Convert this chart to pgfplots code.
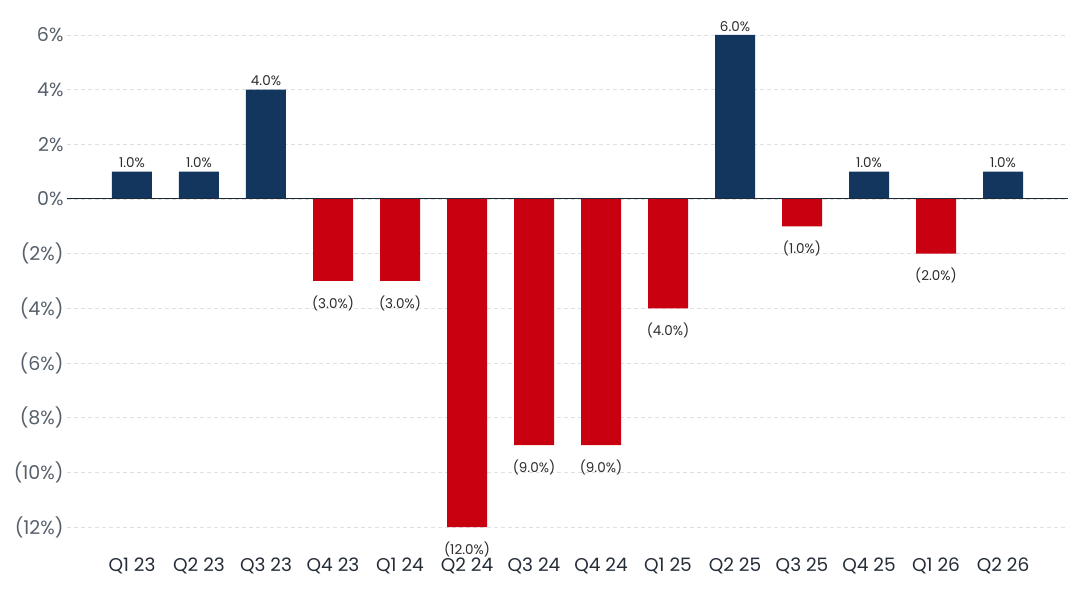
\documentclass[border=0pt]{standalone}
\usepackage{pgfplots}
\pgfplotsset{compat=1.18}
\usepackage{fontspec}
\setmainfont{Poppins}
\definecolor{navy}{HTML}{12365E}
\definecolor{bred}{HTML}{C8000F}
\definecolor{tickgray}{HTML}{56606B}
\definecolor{xdark}{HTML}{252D38}
\definecolor{labdark}{HTML}{2B2B2B}
\definecolor{zeroline}{HTML}{1E2A38}
\begin{document}
\begin{tikzpicture}
\begin{axis}[
  scale only axis, width=1001pt, height=519.33pt,
  xmin=-0.97, xmax=13.97, ymin=-12.5, ymax=6.5,
  axis line style={draw=none},
  major tick length=0pt,
  ybar, bar width=40pt, bar shift=0pt,
  xtick={0,...,13},
  xticklabels={Q1 23,Q2 23,Q3 23,Q4 23,Q1 24,Q2 24,Q3 24,Q4 24,Q1 25,Q2 25,Q3 25,Q4 25,Q1 26,Q2 26},
  ytick={-12,-10,...,6},
  yticklabels={(12\%),(10\%),(8\%),(6\%),(4\%),(2\%),0\%,2\%,4\%,6\%},
  ymajorgrids, grid style={dash pattern=on 4pt off 3pt, color=black!12, line width=0.8pt},
  clip=false,
  yticklabel style={font=\fontsize{19}{21}\selectfont, text=tickgray},
  xticklabel style={font=\fontsize{18.5}{21}\selectfont, text=xdark, yshift=-14pt},
  nodes near coords, point meta=explicit symbolic,
  every node near coord/.append style={font=\fontsize{13.5}{15}\selectfont, text=labdark},
]
\addplot[fill=navy, draw=none] coordinates {
  (0,1) [1.0\%] (1,1) [1.0\%] (2,4) [4.0\%] (9,6) [6.0\%] (11,1) [1.0\%] (13,1) [1.0\%]};
\addplot[fill=bred, draw=none, every node near coord/.append style={anchor=north, yshift=-11pt}] coordinates {
  (3,-3) [(3.0\%)] (4,-3) [(3.0\%)] (5,-12) [(12.0\%)] (6,-9) [(9.0\%)] (7,-9) [(9.0\%)] (8,-4) [(4.0\%)] (10,-1) [(1.0\%)] (12,-2) [(2.0\%)]};
\draw[zeroline, line width=1pt] (axis cs:-0.97,0) -- (axis cs:13.97,0);
\coordinate (bbsw) at (axis cs:-1.970,-14.232);
\coordinate (bbne) at (axis cs:14.149,7.2805);
\end{axis}
\pgfresetboundingbox
\path (bbsw) rectangle (bbne);
\end{tikzpicture}
\end{document}
